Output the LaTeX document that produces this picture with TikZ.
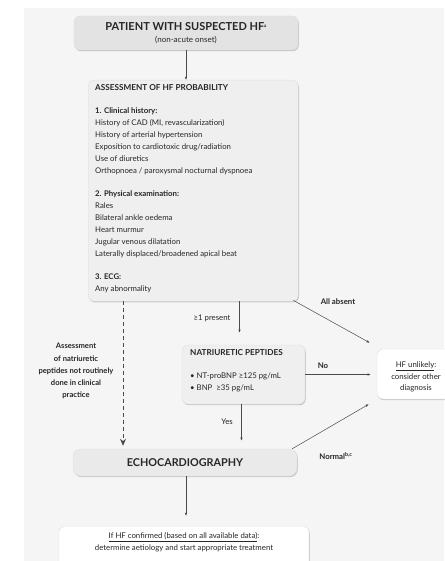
\documentclass[tikz,border=0pt]{standalone}
\usepackage{fontspec}
\setmainfont{Lato}
\usetikzlibrary{arrows.meta,shadows,calc}
\definecolor{panel}{HTML}{F5F5F5}
\definecolor{topfill}{HTML}{E3E3E3}
\definecolor{afill}{HTML}{EFEFEF}
\definecolor{echofill}{HTML}{EAEAEA}
\definecolor{txt}{HTML}{262626}
\definecolor{lin}{HTML}{4A4A4A}
\tikzset{
  box/.style={draw=black!13, line width=0.4pt, rounded corners=6pt,
    drop shadow={shadow xshift=0.8pt, shadow yshift=-1.2pt, opacity=0.18, fill=black},
    inner sep=0pt, text=txt},
  conn/.style={draw=lin, line width=0.5pt, -{Latex[length=3.2pt,width=2.4pt]}},
  dconn/.style={draw=lin, line width=0.9pt, dash pattern=on 4pt off 3pt, -{Stealth[length=7pt,width=6pt]}},
  lbl/.style={text=txt, font=\fontsize{7.8}{9}\selectfont, inner sep=0pt},
  blbl/.style={text=txt, font=\fontsize{7.8}{9}\selectfont\bfseries, inner sep=0pt},
}
\newcommand{\hd}[1]{{\fontsize{8.2}{11.85}\selectfont\bfseries #1}}
\begin{document}
\begin{tikzpicture}[x=1pt,y=-1pt]
\useasboundingbox (0,0) rectangle (444,561);
\fill[panel] (24,8) rectangle (444,561);
% top box
\node[box, fill=topfill, minimum width=224pt, minimum height=34pt, align=center,
  font=\fontsize{11}{13}\selectfont] (top) at (186,33)
  {\textbf{PATIENT WITH SUSPECTED HF}\raisebox{3.5pt}{\fontsize{4.5}{5}\selectfont\bfseries a}\\[-1.5pt]{\fontsize{8}{10}\selectfont (non-acute onset)}};
% assessment box
\node[box, fill=afill, minimum width=210pt, minimum height=221pt, anchor=north west] (assess) at (88,80) {};
\node[anchor=north west, align=left, inner sep=0pt, text=txt,
  font=\fontsize{7.8}{11.85}\selectfont] (atext) at (95,84)
  {\hd{ASSESSMENT OF HF PROBABILITY}\\[11.85pt]
   \textbf{1. Clinical history:}\\
   History of CAD (MI, revascularization)\\
   History of arterial hypertension\\
   Exposition to cardiotoxic drug/radiation\\
   Use of diuretics\\
   Orthopnoea / paroxysmal nocturnal dyspnoea\\[11.85pt]
   \textbf{2. Physical examination:}\\
   Rales\\
   Bilateral ankle oedema\\
   Heart murmur\\
   Jugular venous dilatation\\
   Laterally displaced/broadened apical beat\\[11.85pt]
   \textbf{3. ECG:}\\
   Any abnormality};
% natriuretic box
\node[box, fill=afill, minimum width=123pt, minimum height=59pt] (np) at (243.5,374.5) {};
\node[anchor=north west, align=left, inner sep=0pt, text=txt,
  font=\fontsize{7.8}{11.8}\selectfont] (nptext) at (190,349)
  {\hd{NATRIURETIC PEPTIDES}\\[11.8pt]
   • NT-proBNP ≥125 pg/mL\\
   • BNP \ ≥35 pg/mL};
% echo box
\node[box, fill=echofill, minimum width=224pt, minimum height=27pt,
  font=\fontsize{10.8}{12}\selectfont\bfseries, rounded corners=8pt] (echo) at (185,462.5) {ECHOCARDIOGRAPHY};
% final box
\node[box, fill=white, minimum width=250pt, minimum height=46pt, anchor=north] (final) at (184,526) {};
\node[anchor=north, align=center, inner sep=0pt, text=txt,
  font=\fontsize{7.8}{11.8}\selectfont] (ftext) at (184,532)
  {\underline{If HF confirmed (based on all available data)}:\\
   determine aetiology and start appropriate treatment};
% HF unlikely box
\node[box, fill=white, minimum width=78pt, minimum height=50pt] (unl) at (416,374) {};
\node[align=center, inner sep=0pt, text=txt,
  font=\fontsize{7.8}{11.8}\selectfont] (utext) at (416,377)
  {\underline{HF unlikely}:\\consider other\\diagnosis};
% left label
\node[blbl, align=center, font=\fontsize{7.6}{12.1}\selectfont\bfseries] (left) at (76,371)
  {Assessment\\of natriuretic\\peptides not routinely\\done in clinical\\practice};
% coordinates
\coordinate (dx) at (123,0);
\coordinate (px) at (239.5,0);
\coordinate (yx) at (241.5,0);
\coordinate (ex) at (186,0);
% connectors
\draw[conn] (top.south -| ex) -- (assess.north -| ex);
\draw[dconn] (assess.south -| dx) -- ($(echo.north -| dx)+(0,-3)$);
\draw[conn] (assess.south -| px) -- ($(np.north -| px)+(0,-12)$);
\draw[conn] (np.south -| yx) -- ($(echo.north -| yx)+(0,-8)$);
\draw[conn] (echo.south -| ex) -- ($(final.north -| ex)+(0,-10)$);
\draw[conn] ($(assess.south east)+(-5,-1)$) -- ($(unl.north west)+(-7,-6)$);
\draw[conn] (np.east) -- ($(unl.west |- np.east)+(-6,0)$);
\draw[conn] ($(echo.north east)+(-5,0)$) -- ($(unl.south west)+(-8,5)$);
% labels
\node[lbl] (l1) at (212,318) {≥1 present};
\node[blbl] (l2) at (338,302) {All absent};
\node[blbl] (l3) at (323,366) {No};
\node[lbl] (l4) at (227,422) {Yes};
\node[blbl] (l5) at (336,456) {Normal\textsuperscript{b,c}};
\end{tikzpicture}
\end{document}
